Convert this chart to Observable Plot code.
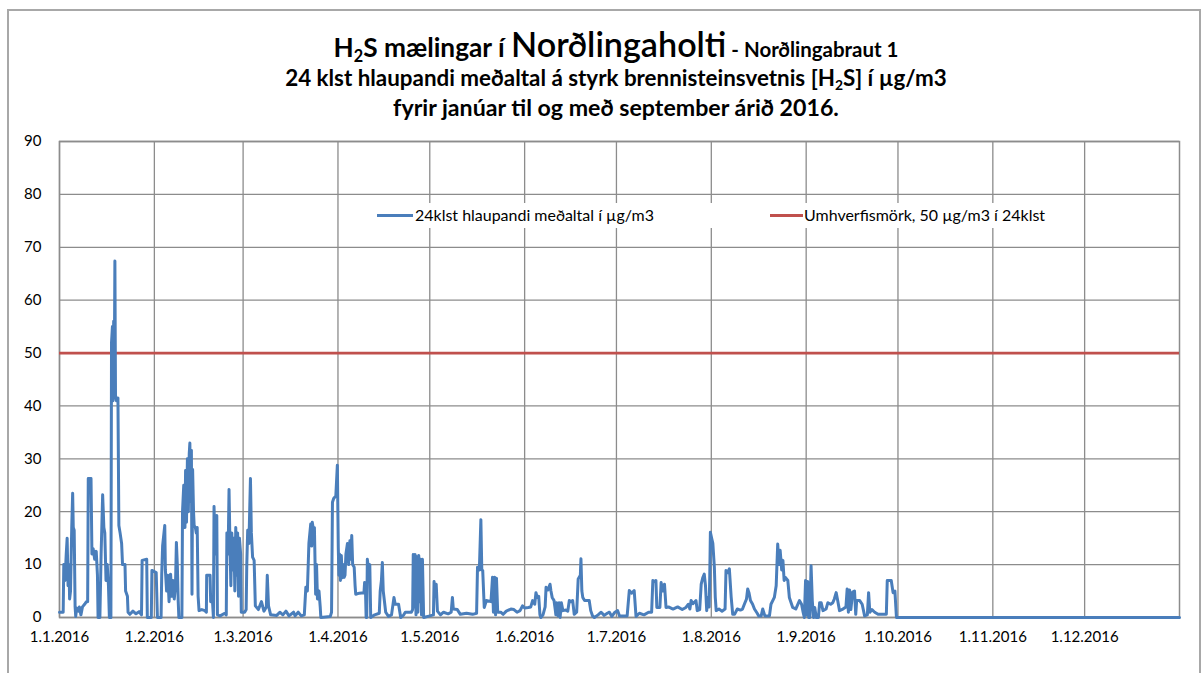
<!DOCTYPE html>
<html><head><meta charset="utf-8">
<script src="https://cdn.jsdelivr.net/npm/d3@7"></script>
<script src="https://cdn.jsdelivr.net/npm/@observablehq/plot@0.6"></script>
<style>
body{margin:0;background:#fff;font-family:Lato,"Open Sans",sans-serif;}
#wrap{position:relative;width:1203px;height:673px;overflow:hidden;background:#fff;}
#border{position:absolute;left:7px;top:9px;width:1194px;height:700px;border:2px solid #a8a8a8;box-sizing:border-box;pointer-events:none;}
#title{position:relative;height:131px;}
.tl{position:absolute;left:0;width:1232px;text-align:center;font-weight:700;white-space:nowrap;color:#000;line-height:1;}
.tl span.in{display:inline-block;}
sub{font-size:0.62em;vertical-align:-0.3em;line-height:0;}
#legend{position:absolute;left:362px;top:203px;width:718px;height:25px;background:#fff;}
.lg-line{position:absolute;height:3px;top:11px;}
.lg-text{position:absolute;top:4px;white-space:nowrap;font-size:14px;line-height:1;color:#000;}
svg{display:block;}
</style></head>
<body>
<div id="wrap">
  <div id="title">
    <div class="tl" style="top:27px"><span class="in" id="t1" style="font-size:20px">H<sub>2</sub>S mælingar í <span style="font-size:1.3em;font-weight:600">Norðlingaholti</span><span style="font-size:0.78em"> - Norðlingabraut 1</span></span></div>
    <div class="tl" style="top:67px"><span class="in" id="t2" style="font-size:20px">24 klst hlaupandi meðaltal á styrk brennisteinsvetnis [H<sub>2</sub>S] í µg/m3</span></div>
    <div class="tl" style="top:96px"><span class="in" id="t3" style="font-size:20px">fyrir janúar til og með september árið 2016.</span></div>
  </div>
  <div id="chart"></div>
  <div id="legend">
    <div class="lg-line" id="lgl1" style="left:15px;width:36px;"></div>
    <div class="lg-text" id="lg1" style="left:53px"></div>
    <div class="lg-line" id="lgl2" style="left:408px;width:33px;"></div>
    <div class="lg-text" id="lg2" style="left:442px"></div>
  </div>
  <div id="border"></div>
</div>
<script>
// ---- data: [day of year 2016 (0 = 1 Jan), 24h running mean µg/m3] ----
const jan = [[0,1],[1.2,1],[1.4,10],[1.8,7],[2.2,12],[2.5,15],[2.8,6],[3.1,10],[3.3,3.5],[3.6,5],[4.0,17],[4.3,23.5],[4.5,17],[4.8,16.5],[5.1,2],[5.3,0.2],[5.6,1.8],[6.2,1.2],[6.5,2],[7,0.5],[7.5,2],[8.2,2.5],[8.8,3],[9.2,3],[9.4,26.3],[10.3,26.3],[10.6,12],[11,13],[11.5,11],[12,12.5],[12.4,8],[12.6,0],[13.2,0],[13.6,12],[14.1,23.2],[14.5,17],[14.8,16],[15.2,7],[15.6,10],[16,6],[16.3,0],[16.8,0],[17,52],[17.3,55],[17.5,41],[17.7,56],[17.9,45],[18.1,67.4],[18.3,42],[18.6,41],[19.1,41.5],[19.4,17.4],[19.8,16],[20.3,14],[20.6,10],[21.4,10],[21.6,5],[22.2,4],[22.4,1],[23,0.6],[24,1.2],[25,0.7],[26,1.1],[26.8,0.5],[27,10.8],[28.5,11],[28.7,0],[30,0],[30.2,8.9]];
const feb = [[31.6,8.5],[32,0],[33.2,0],[33.4,8],[33.7,13.6],[34.4,17.4],[34.6,9],[35,5],[35.4,8],[35.8,3],[36.3,8.2],[36.7,4],[37.1,7],[37.5,3.5],[37.9,6],[38.2,14.2],[38.5,10],[38.8,3],[39,0],[40,0],[40.2,20],[40.6,25],[41,17],[41.2,27.8],[41.5,18],[41.8,30],[42.1,20],[42.4,31],[42.6,33],[42.8,22],[43.1,31.6],[43.3,4.4],[43.5,28],[43.8,20],[44,17.4],[44.4,17],[44.7,16],[45,17],[45.3,4],[45.6,1.3],[46.5,1.5],[47.5,1.3],[48,1],[48.1,8],[49.2,8],[49.4,3],[50,3],[50.3,0],[50.5,21],[50.9,12],[51.4,19.3],[51.6,0.5],[52.5,0.3],[54,0.8],[54.5,0.5],[54.7,16],[55.1,12],[55.4,24.2],[55.7,14],[56,6],[56.3,16],[56.6,9],[57,15],[57.3,5],[57.6,17],[57.9,8],[58.2,16],[58.5,4],[58.8,15],[59.2,12],[59.4,1]];
const mar = [[60.5,1],[61,1.5],[61.2,10],[61.5,16.5],[61.9,14],[62.4,26.3],[62.7,16],[63.1,11.4],[63.6,10.8],[64,2.2],[65,1.5],[66,3],[66.8,1.2],[67.6,2],[67.9,8],[68.3,2.2],[69,0.5],[71,0.4],[72,1],[73,0.5],[74,1.2],[75,0.3],[76.5,1],[77,0.3],[78,1],[79,0.3],[80,0.5],[80.5,5.7],[81,5],[81.5,14],[82.1,17.7],[82.4,13.5],[82.6,18],[83,16.5],[83.3,17],[83.7,4.4],[84,10],[84.3,3.5],[84.8,5],[85.2,2],[85.4,0],[88.5,0.2],[88.9,1],[89.2,21.8],[89.6,22.5],[90.3,23],[90.8,28.8]];
const apr = [[91.1,13.3],[91.3,8],[91.5,12],[91.8,7],[92.1,11.7],[92.4,7.5],[92.7,10],[93,7.6],[93.3,8],[93.6,12],[94.1,14],[94.5,10],[94.9,14.5],[95.2,11],[95.5,15.5],[95.8,10],[96.3,9.5],[96.6,6],[96.8,4.4],[98,4.6],[99.5,4.7],[99.7,6.6],[100,5],[100.2,0],[100.4,0],[100.6,11],[101,9],[101.4,10],[101.7,0],[103,0.5],[104.5,0.8],[104.8,5],[105.2,7],[105.5,10.4],[105.8,5],[106.6,1],[107.5,0.2],[108.5,0.5],[109.3,3.8],[109.7,2.5],[110.8,2.5],[111.5,0],[112.5,0.5],[113,1],[115,1],[115.4,1.5],[115.6,11.9],[115.9,2],[116.2,11.9],[116.5,0.5],[116.8,11.5],[117.1,1],[117.4,11.7],[117.7,3],[118,11],[118.3,0.5],[118.6,11],[119,0],[121,0.3]];
const may = [[122.2,0.5],[122.4,6.8],[122.8,4],[123.1,6.3],[123.5,1.2],[124.5,0.5],[125.5,1],[127,0.7],[128,1],[128.4,3.8],[128.7,1.6],[130,1.5],[131,0.6],[133,0.8],[135,0.6],[136.3,0.8],[136.6,9.5],[137.2,9],[137.7,18.5],[138,9],[138.3,8.9],[138.8,1.9],[139.5,3.2],[141,3],[141.5,7.6],[141.8,1],[142.2,7.6],[142.5,0.5],[142.8,7.4],[143.2,1],[144.2,1],[145,0.6],[146,1.2],[147.5,1.6],[148.5,1.5],[149.5,1],[150.5,1.3],[151.3,2.2]];
const jun = [[152,1.8],[153.2,1.9],[154,2],[154.6,3.2],[155.3,2.5],[155.7,4.7],[156.1,3.8],[156.6,4],[157,0.5],[157.3,0],[158,0.5],[158.7,2],[159,5.7],[159.6,5.2],[160.3,6.3],[160.6,5],[161,3.8],[161.6,3.2],[162,1.5],[162.2,0.5],[162.5,2.8],[162.9,0.3],[163.3,2.8],[163.6,0],[164,2.8],[164.5,1.3],[165.5,1.4],[166.1,1.2],[166.6,3.2],[167.2,3],[167.7,3.2],[168.2,0.6],[169,1],[169.5,7.3],[170.2,8],[170.4,11.1],[170.7,5],[171,3.8],[171.6,3.2],[173.1,3.2],[173.6,1.3],[174.2,0.3],[174.8,0],[176,0.5],[177,1],[178,0.4],[179,0.8],[179.7,1],[180.5,0.2],[181.5,1]];
const jul = [[182.4,1.3],[183,0.3],[185.5,0.3],[186.2,5.1],[187,4.6],[187.8,5.1],[188.4,0.2],[189.5,0.8],[191,0.5],[192.5,1],[193.5,1],[193.9,7],[194.5,6.8],[194.9,7],[195.2,1.9],[196.2,1.9],[196.6,6.6],[197.2,5],[197.7,6.3],[198.2,1.9],[199,2],[200.5,1.6],[202,2],[203.5,1.5],[204.7,1.9],[205.5,2.5],[206,1.6],[206.4,3.2],[207,2.6],[208,3.2],[208.4,1.3],[209.2,1.5],[209.7,6.3],[210.2,7.5],[210.7,8.2],[211.1,6],[211.5,1.3],[211.8,3.8],[212.3,2],[212.5,8],[212.7,16.1]];
const aug = [[213.1,15],[213.5,14],[214,9.5],[214.3,3.8],[214.6,1.3],[215.5,1.6],[216.5,1.2],[217.5,1.6],[217.8,8.9],[218.4,8.5],[218.9,9.2],[219.5,3.8],[220,0.6],[220.6,0.6],[221.5,1.6],[222.5,1.4],[223.2,1.6],[223.8,2.5],[224.5,3.5],[224.9,5.4],[225.3,4.7],[225.8,3.2],[226.5,2.5],[227.1,1.6],[228,0.8],[228.5,0.3],[229.3,0.3],[229.8,1.6],[230.5,0.3],[232,0.3],[232.5,2.5],[233.6,3.8],[234.2,6],[234.7,13.9],[235.1,10],[235.5,12.7],[236,9],[236.4,10.8],[236.8,7],[237.2,7.6],[238,7],[238.5,3.8],[239.6,1.9],[240.6,1.6],[241.8,3.2],[242.5,2.5],[243,1],[243.4,0],[243.8,7]];
const sep = [[244.2,0.5],[244.5,6.8],[244.8,0],[245.2,0],[245.6,9.8],[246,3.2],[246.4,0],[246.8,1.9],[247.3,0],[248,0],[248.4,2.8],[248.9,2.8],[249.5,1.3],[250.5,1.6],[251.1,2.8],[252,2.5],[252.7,2.8],[253.2,3.5],[253.8,4.7],[254.3,3.2],[254.9,1.3],[256,1.6],[257,2],[257.4,5.4],[257.8,1],[258.2,5.2],[258.6,1.5],[259.2,4.8],[259.8,5],[260.2,0.6],[260.5,3.2],[261.5,3.2],[262.3,2.5],[263.1,0.3],[264,0.5],[264.4,4.7],[264.8,1],[265.5,1.5],[266.4,1],[267.5,0.6],[270.2,0.6],[270.5,7],[271.8,7],[272.4,4.7],[273,5],[273.5,0]];
const octDec = [[274,0],[366,0]];

const limitValue = [50];
const yTicks = [0,10,20,30,40,50,60,70,80,90];
const xTickLabels = ["1.1.2016","1.2.2016","1.3.2016","1.4.2016","1.5.2016","1.6.2016","1.7.2016","1.8.2016","1.9.2016","1.10.2016","1.11.2016","1.12.2016"];
const legendLabels = ["24klst hlaupandi meðaltal í µg/m3","Umhverfismörk, 50 µg/m3 í 24klst"];

const BLUE = "#4A7EBB", RED = "#C0504D", GRID = "#8c8c8c";
const t0 = Date.UTC(2016,0,1);
const series = [...jan,...feb,...mar,...apr,...may,...jun,...jul,...aug,...sep,...octDec]
  .map(([d,v]) => ({date: new Date(t0 + d*864e5), value: v}));
const monthTicks = xTickLabels.map((_,i) => new Date(Date.UTC(2016,i,1)));

const chart = Plot.plot({
  width: 1203, height: 542,
  marginLeft: 59, marginRight: 24, marginTop: 10, marginBottom: 56,
  style: {fontFamily: "Lato, 'Open Sans', sans-serif", fontSize: "15px", color: "#000", background: "#fff"},
  x: {type: "utc", domain: [new Date(t0), new Date(Date.UTC(2017,0,1))], ticks: monthTicks,
      tickFormat: d => xTickLabels[d.getUTCMonth()], tickSize: 0, tickPadding: 14, label: null},
  y: {domain: [0,90], ticks: yTicks, tickSize: 0, tickPadding: 18, label: null},
  marks: [
    Plot.ruleY(yTicks, {stroke: GRID, strokeWidth: 1.3}),
    Plot.ruleX(monthTicks, {stroke: GRID, strokeWidth: 1.3}),
    Plot.frame({stroke: GRID, strokeWidth: 1.5}),
    Plot.ruleY(limitValue, {stroke: RED, strokeWidth: 2.8}),
    Plot.line(series, {x: "date", y: "value", stroke: BLUE, strokeWidth: 3, strokeLinejoin: "round"})
  ]
});
document.getElementById("chart").appendChild(chart);

// legend
document.getElementById("lgl1").style.background = BLUE;
document.getElementById("lgl2").style.background = RED;
document.getElementById("lg1").textContent = legendLabels[0];
document.getElementById("lg2").textContent = legendLabels[1];

function fit(id, target) {
  const el = document.getElementById(id);
  const fs = parseFloat(el.style.fontSize) || 14;
  const w = el.getBoundingClientRect().width;
  if (w > 0) el.style.fontSize = (fs * target / w).toFixed(2) + "px";
}
fit("t1", 565); fit("t2", 662); fit("t3", 446);
fit("lg1", 239); fit("lg2", 241);
</script>
</body></html>
